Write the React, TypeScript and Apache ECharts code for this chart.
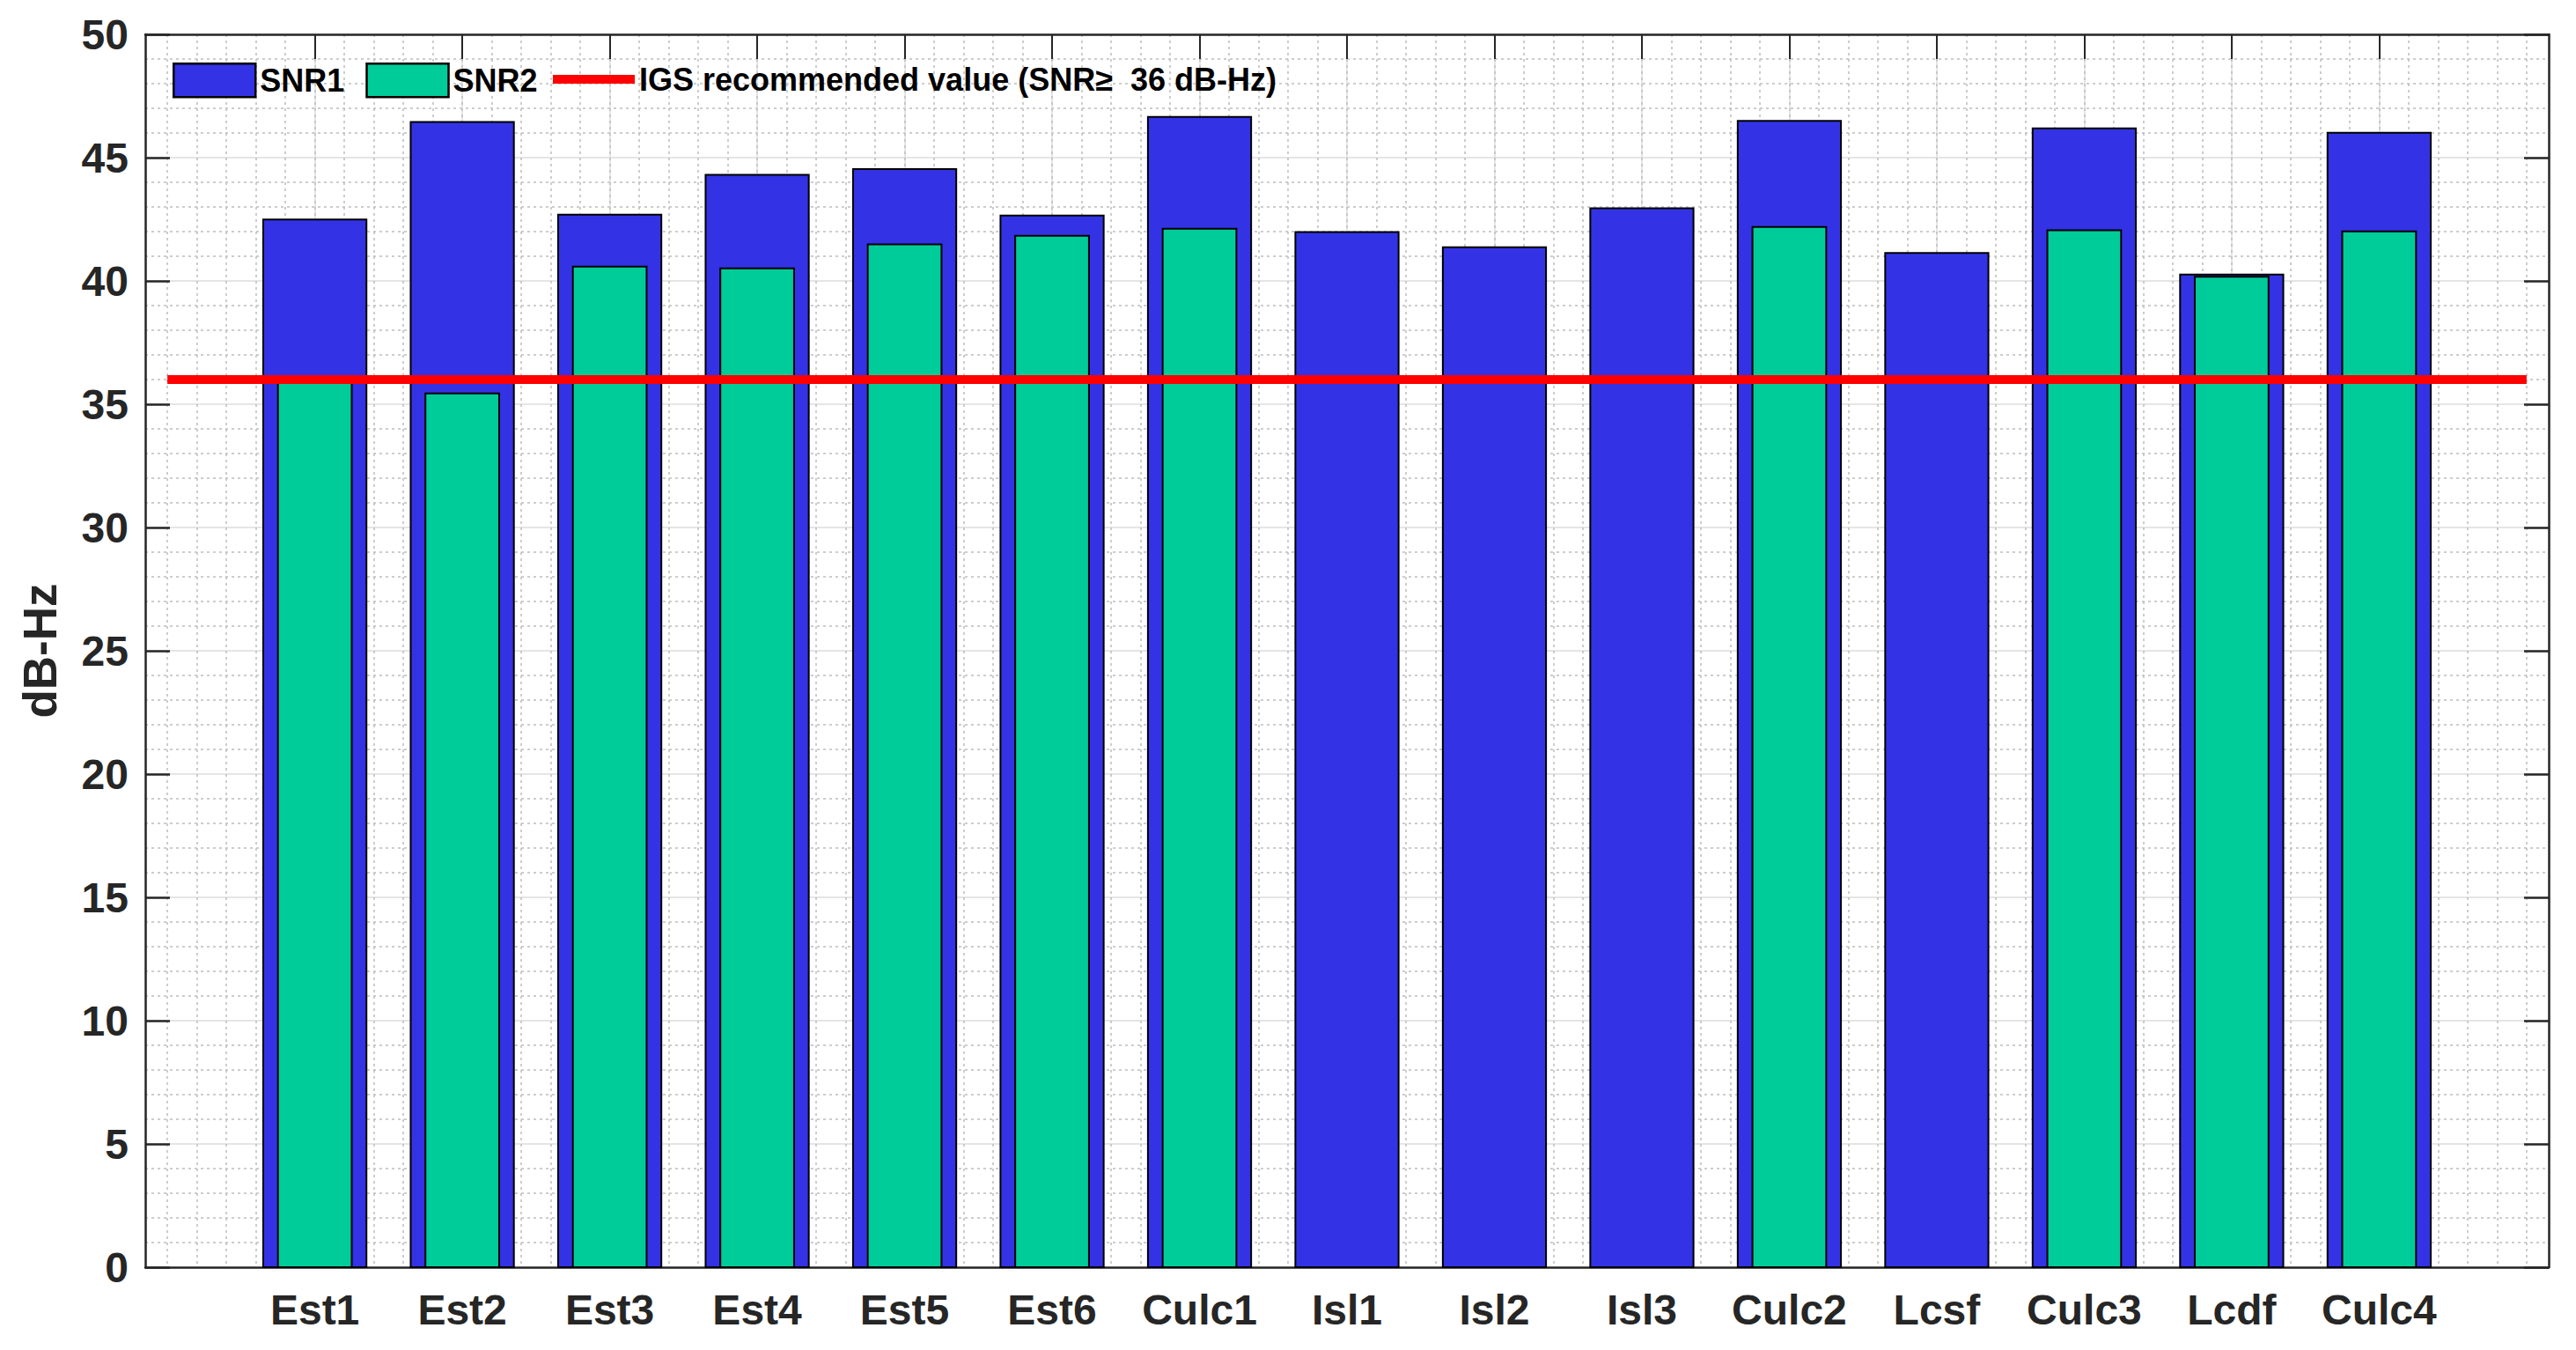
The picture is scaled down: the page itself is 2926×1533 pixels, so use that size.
import React, { useEffect, useRef } from "react";
import * as echarts from "echarts";

const categories = ["Est1", "Est2", "Est3", "Est4", "Est5", "Est6", "Culc1", "Isl1", "Isl2", "Isl3", "Culc2", "Lcsf", "Culc3", "Lcdf", "Culc4"];
const snr1 = [42.49, 46.45, 42.69, 44.3, 44.54, 42.65, 46.65, 41.98, 41.37, 42.95, 46.49, 41.13, 46.19, 40.26, 46.01];
const snr2: (number | null)[] = [36.0, 35.44, 40.58, 40.51, 41.48, 41.83, 42.12, null, null, null, 42.19, null, 42.05, 40.17, 42.01];
const igsValue = 36;
const igsLineX = [0, 16];
const yTicks = [0, 50, 5];
const xLimits = [-0.15, 16.15];

const SNR1_NAME = "SNR1";
const SNR2_NAME = "SNR2";
const IGS_NAME = "IGS recommended value (SNR\u2265  36 dB-Hz)";

const SNR1_COLOR = "#3333E5";
const SNR2_COLOR = "#00CC99";
const FONT = "'Liberation Sans', Arial, sans-serif";
const AXIS_COLOR = "#262626";

export default function App() {
  const ref = useRef<HTMLDivElement>(null);
  useEffect(() => {
    if (!ref.current) return;
    const chart = echarts.init(ref.current, null, { renderer: "svg" });
    const majorX = categories.map((_, i) => i + 1);
    const minorX: number[] = [];
    for (let k = 0; k <= 80; k++) minorX.push(Math.round(k * 0.2 * 100) / 100);

    const barRender = (width: number, color: string) => (params: any, api: any) => {
      const x = api.value(0);
      const v = api.value(1);
      if (v == null || isNaN(v)) return null;
      const p0 = api.coord([x - width / 2, v]);
      const p1 = api.coord([x + width / 2, 0]);
      return {
        type: "rect",
        shape: { x: p0[0], y: p0[1], width: p1[0] - p0[0], height: p1[1] - p0[1] },
        style: { fill: color, stroke: "#000", lineWidth: 2 },
      };
    };

    const snr1Data = categories.map((_, i) => [i + 1, snr1[i]]);
    const snr2Data = categories
      .map((_, i) => [i + 1, snr2[i]])
      .filter((d) => d[1] != null);

    const option: any = {
      animation: false,
      backgroundColor: "#fff",
      textStyle: { fontFamily: FONT },
      grid: { left: 165, top: 39, right: 31, bottom: 94, containLabel: false },
      legend: [
        {
          left: 196,
          top: 71,
          itemWidth: 93,
          itemHeight: 38,
          itemGap: 24,
          padding: 0,
          selectedMode: false,
          textStyle: { fontSize: 36, fontWeight: "bold", color: "#000", fontFamily: FONT },
          data: [
            { name: SNR1_NAME, icon: "rect", itemStyle: { color: SNR1_COLOR, borderColor: "#000", borderWidth: 2.5 } },
            { name: SNR2_NAME, icon: "rect", itemStyle: { color: SNR2_COLOR, borderColor: "#000", borderWidth: 2.5 } },
          ],
        },
        {
          left: 628,
          top: 72,
          itemWidth: 93,
          itemHeight: 10,
          padding: 0,
          selectedMode: false,
          textStyle: { fontSize: 36, fontWeight: "bold", color: "#000", fontFamily: FONT },
          data: [{ name: IGS_NAME, icon: "rect", itemStyle: { color: "#FF0000", borderWidth: 0 } }],
        },
      ],
      xAxis: [
        {
          type: "value",
          position: "bottom",
          min: xLimits[0],
          max: xLimits[1],
          axisLine: { show: true, onZero: false, lineStyle: { color: AXIS_COLOR, width: 2.5 } },
          axisTick: { show: true, inside: true, length: 28, customValues: majorX, lineStyle: { color: AXIS_COLOR, width: 2 } },
          axisLabel: {
            show: true,
            customValues: majorX,
            margin: 24,
            fontSize: 48,
            fontWeight: "bold",
            color: AXIS_COLOR,
            fontFamily: FONT,
            formatter: (v: number) => categories[Math.round(v) - 1] ?? "",
          },
          splitLine: { show: true, lineStyle: { color: "#dcdcdc", width: 1.5 } },
        },
        {
          type: "value",
          position: "top",
          min: xLimits[0],
          max: xLimits[1],
          axisLine: { show: true, onZero: false, lineStyle: { color: AXIS_COLOR, width: 2.5 } },
          axisTick: { show: true, inside: true, length: 28, customValues: majorX, lineStyle: { color: AXIS_COLOR, width: 2 } },
          axisLabel: { show: false },
          splitLine: { show: false },
        },
        {
          type: "value",
          position: "bottom",
          min: xLimits[0],
          max: xLimits[1],
          axisLine: { show: false, onZero: false },
          axisTick: { show: false, customValues: minorX },
          axisLabel: { show: false },
          splitLine: { show: true, lineStyle: { color: "#bdbdbd", width: 1.5, type: [3, 4] } },
        },
      ],
      yAxis: [
        {
          type: "value",
          position: "left",
          min: yTicks[0],
          max: yTicks[1],
          interval: yTicks[2],
          name: "dB-Hz",
          nameLocation: "middle",
          nameGap: 93,
          nameTextStyle: { fontSize: 53, fontWeight: "bold", color: AXIS_COLOR, fontFamily: FONT },
          axisLine: { show: true, onZero: false, lineStyle: { color: AXIS_COLOR, width: 2.5 } },
          axisTick: { show: true, inside: true, length: 28, lineStyle: { color: AXIS_COLOR, width: 2.5 } },
          axisLabel: { margin: 19, fontSize: 48, fontWeight: "bold", color: AXIS_COLOR, fontFamily: FONT },
          splitLine: { show: true, lineStyle: { color: "#dcdcdc", width: 1.5 } },
          minorTick: { show: false, splitNumber: 5 },
          minorSplitLine: { show: true, lineStyle: { color: "#bdbdbd", width: 1.5, type: [3, 4] } },
        },
        {
          type: "value",
          position: "right",
          min: yTicks[0],
          max: yTicks[1],
          interval: yTicks[2],
          axisLine: { show: true, onZero: false, lineStyle: { color: AXIS_COLOR, width: 2.5 } },
          axisTick: { show: true, inside: true, length: 28, lineStyle: { color: AXIS_COLOR, width: 2.5 } },
          axisLabel: { show: false },
          splitLine: { show: false },
        },
      ],
      series: [
        {
          name: SNR1_NAME,
          type: "custom",
          xAxisIndex: 0,
          yAxisIndex: 0,
          renderItem: barRender(0.7, SNR1_COLOR),
          itemStyle: { color: SNR1_COLOR },
          encode: { x: 0, y: 1 },
          data: snr1Data,
          z: 2,
        },
        {
          name: SNR2_NAME,
          type: "custom",
          xAxisIndex: 0,
          yAxisIndex: 0,
          renderItem: barRender(0.5, SNR2_COLOR),
          itemStyle: { color: SNR2_COLOR },
          encode: { x: 0, y: 1 },
          data: snr2Data,
          z: 3,
        },
        {
          name: IGS_NAME,
          type: "line",
          xAxisIndex: 0,
          yAxisIndex: 0,
          symbol: "none",
          silent: true,
          lineStyle: { color: "#FF0000", width: 10 },
          itemStyle: { color: "#FF0000" },
          data: igsLineX.map((x) => [x, igsValue]),
          z: 4,
        },
      ],
    };
    chart.setOption(option);
    return () => chart.dispose();
  }, []);
  return <div ref={ref} style={{ position: "absolute", left: 0, top: 0, width: 2926, height: 1533 }} />;
}
